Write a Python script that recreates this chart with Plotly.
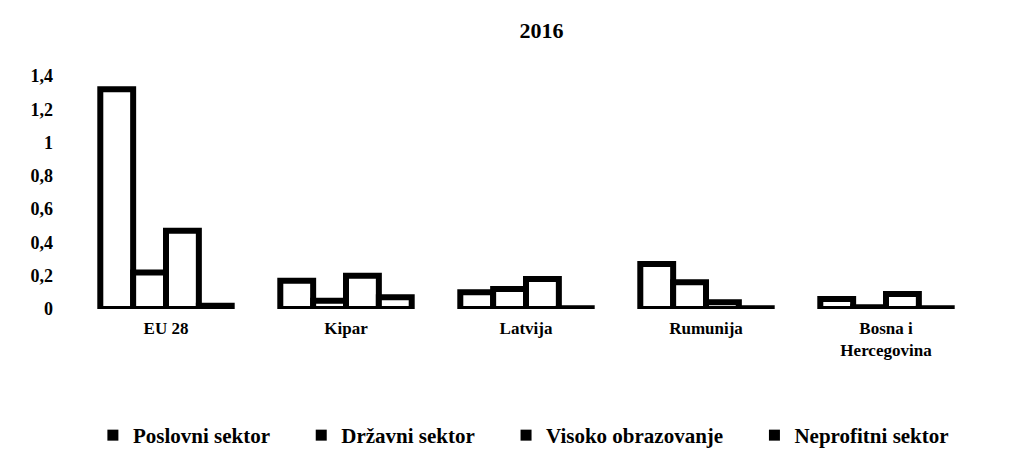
import plotly.graph_objects as go

categories = ["EU 28", "Kipar", "Latvija", "Rumunija", "Bosna i<br>Hercegovina"]
series_names = ["Poslovni sektor", "Državni sektor", "Visoko obrazovanje", "Neprofitni sektor"]
poslovni = [1.32, 0.17, 0.10, 0.27, 0.06]
drzavni = [0.22, 0.05, 0.12, 0.16, 0.01]
visoko = [0.47, 0.20, 0.18, 0.04, 0.09]
neprofitni = [0.02, 0.07, 0.005, 0.005, 0.005]
y_ticks = [0, 0.2, 0.4, 0.6, 0.8, 1.0, 1.2, 1.4]

font_family = "Liberation Serif"
pad = "\u00a0" * 5
fig = go.Figure()
for name, vals in zip(series_names, [poslovni, drzavni, visoko, neprofitni]):
    fig.add_trace(go.Bar(
        name=name, x=categories, y=vals, showlegend=False,
        marker=dict(color="white", line=dict(color="black", width=6)),
    ))
for name in series_names:
    fig.add_trace(go.Scatter(
        name=name + pad, x=[categories[0]], y=[None], mode="markers",
        marker=dict(symbol="square", size=11, color="black"),
    ))

fig.update_layout(
    width=1026, height=450,
    paper_bgcolor="white", plot_bgcolor="white",
    separators=",.",
    barmode="group", bargap=0.27, bargroupgap=0,
    title=dict(text="<b>2016</b>", x=0.52, xanchor="center", y=0.95, yanchor="middle",
               font=dict(family=font_family, size=22, color="black")),
    margin=dict(l=68, r=58, t=68, b=149, autoexpand=False),
    font=dict(family=font_family, color="black"),
    xaxis=dict(showline=False, ticks="", ticklabelstandoff=7,
               tickfont=dict(family=font_family, size=17, color="black", weight="bold")),
    yaxis=dict(range=[0, 1.4], tickvals=y_ticks, showgrid=False, zeroline=False,
               tickfont=dict(family=font_family, size=18, color="black", weight="bold"),
               ticklabelstandoff=22),
    legend=dict(orientation="h", x=0.515, xanchor="center", xref="container",
                y=0.05, yanchor="middle", yref="container",
                font=dict(family=font_family, size=21, color="black", weight="bold"),
                itemwidth=30, traceorder="normal"),
)
fig.update_yaxes(tickformat=",.1~f")
fig.write_html("out.html")
